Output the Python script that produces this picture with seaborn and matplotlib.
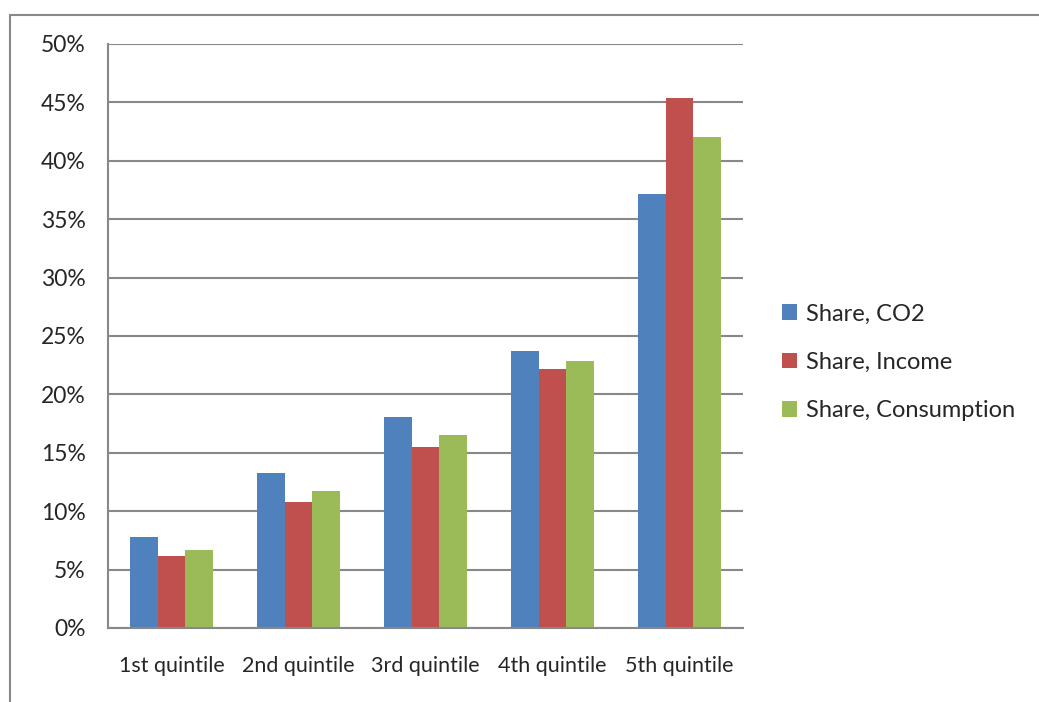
import pandas as pd
import matplotlib.pyplot as plt
import seaborn as sns
from matplotlib.lines import Line2D
from matplotlib.ticker import PercentFormatter

# ----------------------------------------------------------
# Data
# ----------------------------------------------------------

quintiles = ["1st quintile", "2nd quintile", "3rd quintile", "4th quintile", "5th quintile"]
share_co2 = [7.8, 13.3, 18.05, 23.7, 37.2]
share_income = [6.15, 10.75, 15.5, 22.2, 45.4]
share_consumption = [6.65, 11.75, 16.5, 22.85, 42.0]

series_names = ["Share, CO2", "Share, Income", "Share, Consumption"]
colors = ["#4F81BD", "#C0504D", "#9BBB59"]

df = pd.DataFrame({
    "quintile": quintiles * 3,
    "series": [series_names[0]] * 5 + [series_names[1]] * 5 + [series_names[2]] * 5,
    "value": share_co2 + share_income + share_consumption,
})

# ----------------------------------------------------------
# Figure
# ----------------------------------------------------------

sns.set_style("white")
plt.rcParams["font.family"] = ["Lato", "DejaVu Sans"]

grid_col = "#888888"

fig = plt.figure(figsize=(10.39, 7.02), dpi=100)
ax = fig.add_axes([108 / 1039, 1 - 628 / 702, (743 - 108) / 1039, (628 - 44) / 702])

sns.barplot(data=df, x="quintile", y="value", hue="series", palette=colors,
            width=0.66, gap=0, saturation=1, ax=ax, edgecolor="none")

ax.set_ylim(0, 50)
ax.set_xlim(-0.5, 4.5)
ax.set_yticks(range(0, 51, 5))
ax.yaxis.set_major_formatter(PercentFormatter(decimals=0))
ax.set_xlabel("")
ax.set_ylabel("")
ax.yaxis.grid(True, color=grid_col, linewidth=1.5)
ax.set_axisbelow(True)

# x ticks at category boundaries, labels centred
ax.set_xticks([i - 0.5 for i in range(6)], minor=False)
ax.set_xticklabels([])
ax.set_xticks(range(5), minor=True)
ax.set_xticklabels(quintiles, minor=True, fontsize=15.5)
ax.tick_params(axis="x", which="major", direction="out", length=7, width=1.5, color=grid_col)
ax.tick_params(axis="x", which="minor", length=0, pad=20)
ax.tick_params(axis="y", direction="out", length=8, width=1.5, color=grid_col,
               labelsize=16.5, pad=8)

for side in ["top", "right"]:
    ax.spines[side].set_visible(False)
for side in ["left", "bottom"]:
    ax.spines[side].set_color(grid_col)
    ax.spines[side].set_linewidth(1.5)

# legend on the right
leg = ax.legend(loc="center left", bbox_to_anchor=(1.028, 0.455), frameon=False,
                fontsize=17, handlelength=0.65, handleheight=0.65,
                handletextpad=0.35, labelspacing=1.15)

# outer chart border (top and left edges visible)
fig.add_artist(Line2D([10 / 1039, 1.0], [1 - 15 / 702, 1 - 15 / 702],
                      transform=fig.transFigure, color=grid_col, linewidth=1.5))
fig.add_artist(Line2D([10 / 1039, 10 / 1039], [0.0, 1 - 15 / 702],
                      transform=fig.transFigure, color=grid_col, linewidth=1.5))

fig.savefig("out.png", dpi=100)
